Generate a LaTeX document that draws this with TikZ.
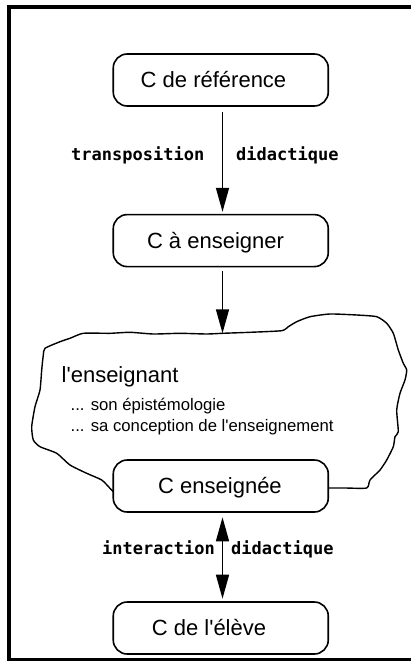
\documentclass[tikz,border=0pt]{standalone}
\usepackage{fontspec}
\setmainfont{Liberation Sans}[Ligatures=TeXOff]
\newfontfamily\labfont{DejaVu Sans Mono}
\usetikzlibrary{arrows.meta}
\begin{document}
\begin{tikzpicture}[x=1pt,y=-1pt,
  box/.style={draw, line width=1.6pt, rounded corners=14pt, fill=white, minimum width=215pt, minimum height=52pt, inner sep=0pt},
  boxtxt/.style={font=\fontsize{22}{26}\selectfont, inner sep=0pt, text height=15.8pt, text depth=0pt},
  arr/.style={line width=1.5pt, -{Triangle[length=24pt,width=13pt]}},
  darr/.style={line width=1.5pt, {Triangle[length=24pt,width=13pt]}-{Triangle[length=24pt,width=13pt]}},
  lab/.style={font=\labfont\bfseries\fontsize{17}{20}\selectfont, inner sep=0pt, anchor=base west},
  note/.style={font=\fontsize{16.7}{20}\selectfont, inner sep=0pt, anchor=base west},
  big/.style={font=\fontsize{22}{26}\selectfont, inner sep=0pt, anchor=base west},
  cloudline/.style={line width=1.4pt, line join=round, line cap=round}
]
\useasboundingbox (0,0) rectangle (411,661);
\fill[white] (0,0) rectangle (411,661);
% frame
\draw[line width=4pt] (9,7) rectangle (430,660);
% cloud (l'enseignant)
\draw[cloudline] plot[smooth, tension=0.35] coordinates {
 (113,491.5) (110,488.3) (101.7,480) (86.7,473.3) (70,465) (56.7,453.3) (40,446.7)
 (33.3,440) (31.7,426.7) (35,406.7) (40,390) (41.7,370) (43.3,355) (45,348.3)
 (60,341.7) (70,338.3) (83.3,333.3) (110,333.3) (130,332.3) (153.3,334) (180,333.3)
 (206.7,334) (222.5,333.3) (250,332.3) (281.7,330.7) (288.3,326.7) (296.7,321.7)
 (310,316.7) (330,314) (356.7,315) (376.7,316.7) (386.7,323.3) (393.3,333.3)
 (398.3,350) (403.3,363.3) (406.7,370) (405,380) (400,393.3) (396.7,410)
 (398.3,431.7) (395,436.7) (393.3,446.7) (386.7,460) (380,470) (370,480)
 (366.7,488) (345,488) (328,488)};
\coordinate (ctop) at (222.5,333.3);
\coordinate (ax) at (222.5,0);
% boxes
\node[box] (b1) at (220.75,80) {};
\node[box] (b2) at (220.75,240.6) {};
\node[box] (b3) at (220.75,486) {};
\node[box] (b4) at (220.75,628) {};
\node[boxtxt] (t1) at ([xshift=-7.25pt]b1.center) {C de référence};
\node[boxtxt] (t2) at ([xshift=-5.25pt]b2.center) {C à enseigner};
\node[boxtxt] (t3) at ([xshift=-0.75pt]b3.center) {C enseignée};
\node[boxtxt] (t4) at ([xshift=-11.75pt]b4.center) {C de l'élève};
% arrows
\draw[arr, shorten <=5.5pt, shorten >=2pt] (b1.south -| ax) -- (b2.north -| ax);
\draw[arr, shorten <=3.5pt] (b2.south -| ax) -- (ctop);
\draw[darr, shorten <=4.5pt, shorten >=2.5pt] (b3.south -| ax) -- (b4.north -| ax);
% labels
\node[lab] (l1) at (71,160.5) {transposition};
\node[lab] (l2) at (236,160.5) {didactique};
\node[lab] (l3) at (102,554) {interaction};
\node[lab] (l4) at (231,554) {didactique};
% teacher text
\node[big] (e1) at (61.5,382.7) {l'enseignant};
\node[note] (e2) at (70.5,410) {... son épistémologie};
\node[note] (e3) at (70.5,431) {... sa conception de l'enseignement};
\end{tikzpicture}
\end{document}
